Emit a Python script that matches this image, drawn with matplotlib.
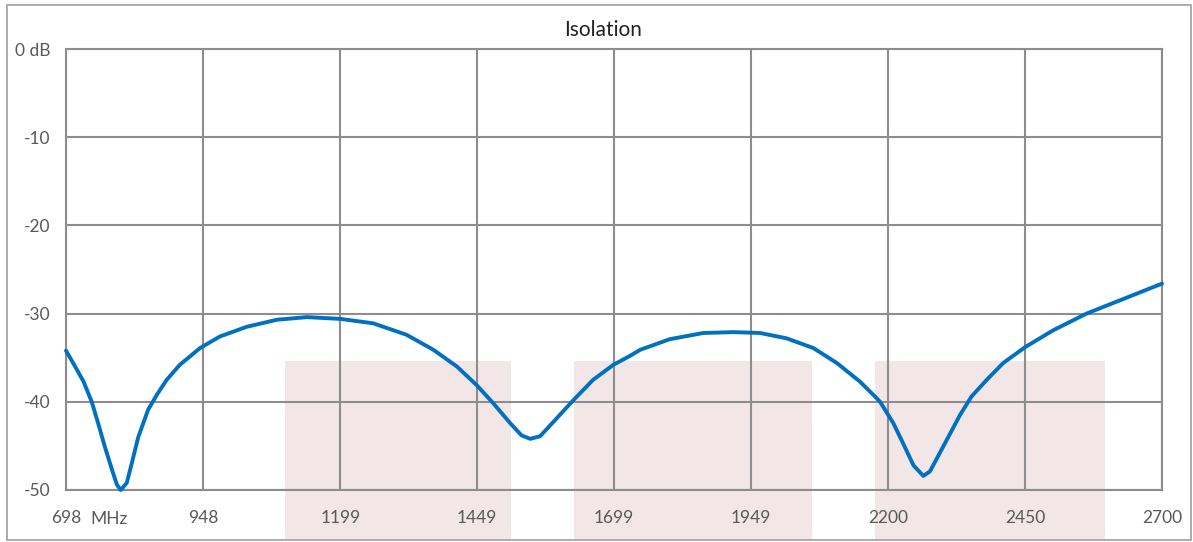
import matplotlib.pyplot as plt
from matplotlib.patches import Rectangle

# isolation curve (MHz, dB)
freq = [698, 711, 730, 745, 757, 769, 782, 791, 798, 809, 818, 830, 848,
        864, 882, 906, 943, 979, 1028, 1083, 1138, 1199, 1259, 1320, 1369,
        1412, 1448, 1479, 1509, 1530, 1546, 1564, 1588, 1625, 1661, 1698,
        1728, 1747, 1801, 1862, 1917, 1966, 2014, 2063, 2106, 2148, 2179,
        2185, 2209, 2227, 2246, 2264, 2276, 2295, 2313, 2331, 2352, 2380,
        2410, 2450, 2501, 2562, 2623, 2700]
iso = [-34.2, -35.6, -37.7, -40.0, -42.5, -45.1, -47.7, -49.4, -50.0, -49.2,
       -47.0, -44.0, -40.9, -39.2, -37.5, -35.8, -33.9, -32.6, -31.5, -30.7,
       -30.4, -30.6, -31.1, -32.4, -34.1, -36.0, -38.1, -40.2, -42.4, -43.8,
       -44.2, -43.9, -42.3, -39.8, -37.5, -35.8, -34.8, -34.1, -32.9, -32.2,
       -32.1, -32.2, -32.8, -33.9, -35.6, -37.7, -39.6, -40.0, -42.4, -44.7,
       -47.2, -48.4, -47.9, -45.7, -43.6, -41.5, -39.4, -37.5, -35.6, -33.8,
       -31.9, -30.0, -28.5, -26.6]

# shaded bands (start, stop MHz)
bands = [(1098, 1511), (1626, 2061), (2176, 2596)]
band_top = -35.4
band_bottom = -55.6

xticks = [698, 948, 1199, 1449, 1699, 1949, 2200, 2450, 2700]
yticks = [0, -10, -20, -30, -40, -50]
ylabels = ['0 dB', '-10', '-20', '-30', '-40', '-50']

W, H = 1193, 542
fig = plt.figure(figsize=(W / 100, H / 100), dpi=100)
plt.rcParams['font.family'] = ['Lato', 'DejaVu Sans']
gray = '#8e8c8e'
txt = '#595959'

ax = fig.add_axes([66 / W, (H - 490) / H, 1096 / W, 441 / H])
ax.set_xlim(698, 2700)
ax.set_ylim(-50, 0)

for a, b in bands:
    ax.add_patch(Rectangle((a, band_bottom), b - a, band_top - band_bottom,
                           facecolor='#f3e6e6', edgecolor='none',
                           zorder=0, clip_on=False))

ax.set_xticks(xticks)
ax.set_yticks(yticks)
ax.set_yticklabels(ylabels)
ax.grid(True, color=gray, lw=1.5, zorder=1)
ax.set_axisbelow(True)
ax.tick_params(length=0, labelsize=12.5, labelcolor=txt)
ax.tick_params(axis='x', pad=14.5)
ax.tick_params(axis='y', pad=11)
for s in ax.spines.values():
    s.set_color(gray)
    s.set_linewidth(1.5)
ax.patch.set_alpha(0)

ax.plot(freq, iso, color='#0070c0', lw=2.8, solid_joinstyle='round',
        solid_capstyle='round', zorder=3, clip_on=False)

fig.text(90 / W, 1 - 519 / H, 'MHz', fontsize=12.5, color=txt,
         ha='left', va='center')
fig.text(603 / W, 1 - 29.5 / H, 'Isolation', fontsize=15, color='#222222',
         ha='center', va='center')

fig.patches.append(Rectangle((7 / W, 1 - 540 / H), 1184 / W, 535 / H,
                             transform=fig.transFigure, fill=False,
                             edgecolor='#a6a6a6', lw=1.3, zorder=-1))

fig.savefig('out.png', dpi=100)
